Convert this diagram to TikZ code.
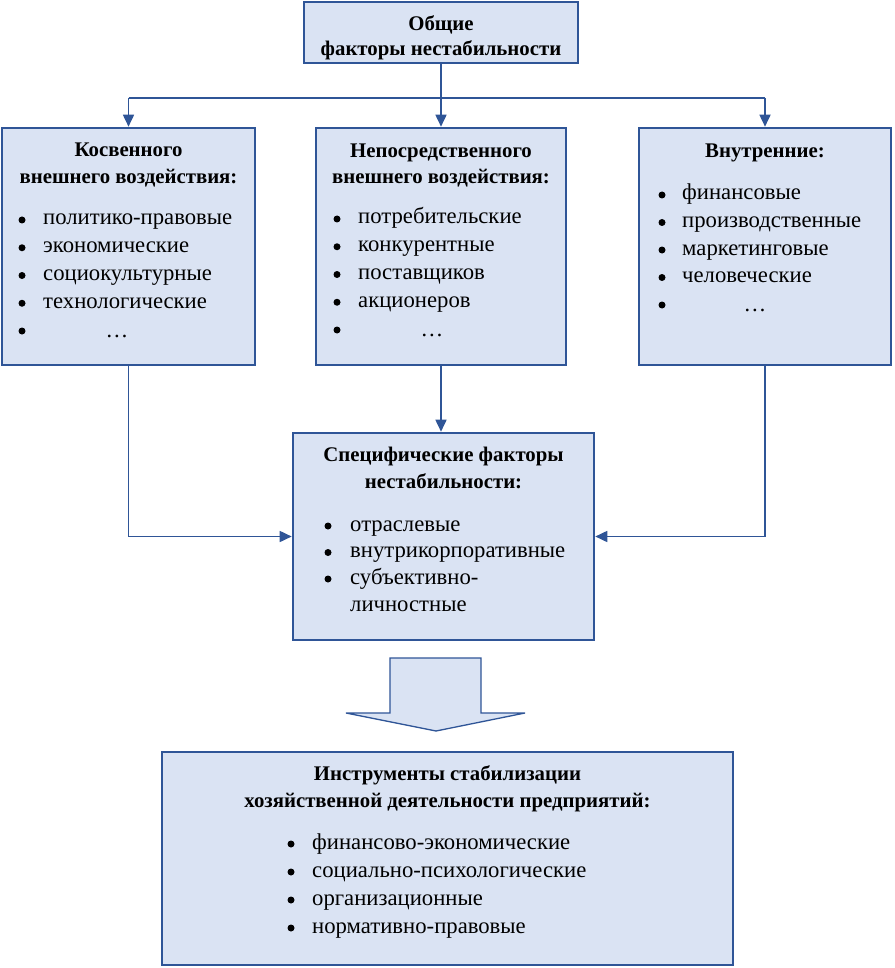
\documentclass[tikz,border=0pt]{standalone}
\usepackage{fontspec}
\setmainfont{Liberation Serif}
\usetikzlibrary{arrows.meta}
\definecolor{bfill}{RGB}{218,227,243}
\definecolor{bline}{RGB}{47,85,151}
\begin{document}
\begin{tikzpicture}[x=1pt,y=-1pt,
 box/.style={draw=bline, line width=2.6pt, fill=bfill, inner sep=0pt},
 wire/.style={draw=bline, line width=1.7pt},
 conn/.style={wire, -{Triangle[length=12pt,width=11pt]}},
 ttl/.style={font=\fontsize{20.8}{25}\selectfont\bfseries, anchor=base, inner sep=0pt, yshift=-6pt},
 itm/.style={font=\fontsize{22.7}{27}\selectfont, anchor=base west, inner sep=0pt, yshift=-6pt},
 bul/.style={circle, fill=black, minimum size=7pt, inner sep=0pt, yshift=-1pt},
 dts/.style={font=\fontsize{22.7}{27}\selectfont, anchor=base, inner sep=0pt, yshift=-6pt},
 blockarrow/.style={draw=bline, line width=1.3pt, fill=bfill, line join=miter},
]
\useasboundingbox (0,0) rectangle (894,968);
% boxes
\node[box, minimum width=274pt, minimum height=61pt] (top) at (441,32.5) {};
\node[box, minimum width=253pt, minimum height=237pt] (left) at (128.5,246.5) {};
\node[box, minimum width=250pt, minimum height=237pt] (mid) at (441,246.5) {};
\node[box, minimum width=252pt, minimum height=237pt] (right) at (765,246.5) {};
\node[box, minimum width=301pt, minimum height=207pt] (spec) at (443.5,536.5) {};
\node[box, minimum width=571pt, minimum height=213pt] (bot) at (447.5,858.5) {};
% connectors
\coordinate (j) at (441,98);
\coordinate (jl) at (left.north |- j);
\coordinate (jr) at (right.north |- j);
\draw[wire] (jl) -- (jr);
\draw[conn] (top.south) -- (mid.north);
\draw[conn] (jl) -- (left.north);
\draw[conn] (jr) -- (right.north);
\draw[conn] (mid.south) -- (mid.south |- spec.north);
\draw[conn] (left.south) |- (spec.west);
\draw[conn] (right.south) |- (spec.east);
% block arrow
\draw[blockarrow] (390,658) -- (481,658) -- (481,713) -- (525,713) -- (436,731) -- (346,713) -- (390,713) -- cycle;
% top text
\node[ttl] (top1) at (441,25) {Общие};
\node[ttl] (top2) at (441,50) {факторы нестабильности};
% left
\node[ttl] (l1) at (128.5,151) {Косвенного};
\node[ttl] (l2) at (128.5,178) {внешнего воздействия:};
\foreach \t [count=\i] in {политико-правовые,экономические,социокультурные,технологические}{
  \node[bul] (lb\i) at (22,{219+27.75*(\i-1)}) {};
  \node[itm] (li\i) at (43,{219+27.75*(\i-1)}) {\t};
}
\node[bul] (lb5) at (22,330) {};
\node[dts] (li5) at (117,331) {\dots};
% middle
\node[ttl] (m1) at (441,152) {Непосредственного};
\node[ttl] (m2) at (441,178) {внешнего воздействия:};
\foreach \t [count=\i] in {потребительские,конкурентные,поставщиков,акционеров}{
  \node[bul] (mb\i) at (337,{218+27.75*(\i-1)}) {};
  \node[itm] (mi\i) at (358,{218+27.75*(\i-1)}) {\t};
}
\node[bul] (mb5) at (337,329) {};
\node[dts] (mi5) at (432,330) {\dots};
% right
\node[ttl] (r1) at (765,152) {Внутренние:};
\foreach \t [count=\i] in {финансовые,производственные,маркетинговые,человеческие}{
  \node[bul] (rb\i) at (662,{194+27.5*(\i-1)}) {};
  \node[itm] (ri\i) at (682,{194+27.5*(\i-1)}) {\t};
}
\node[bul] (rb5) at (662,304) {};
\node[dts] (ri5) at (755,305) {\dots};
% specific
\node[ttl] (s1) at (443.5,455) {Специфические факторы};
\node[ttl] (s2) at (443.5,482) {нестабильности:};
\foreach \t [count=\i] in {отраслевые,внутрикорпоративные,субъективно-}{
  \node[bul] (sb\i) at (328,{525+26.5*(\i-1)}) {};
  \node[itm] (si\i) at (350,{525+26.5*(\i-1)}) {\t};
}
\node[itm] (si4) at (350,605) {личностные};
% bottom
\node[ttl] (b1) at (447.5,774) {Инструменты стабилизации};
\node[ttl] (b2) at (447.5,801) {хозяйственной деятельности предприятий:};
\foreach \t [count=\i] in {финансово-экономические,социально-психологические,организационные,нормативно-правовые}{
  \node[bul] (bb\i) at (291,{843+28*(\i-1)}) {};
  \node[itm] (bi\i) at (312,{843+28*(\i-1)}) {\t};
}
\end{tikzpicture}
\end{document}
